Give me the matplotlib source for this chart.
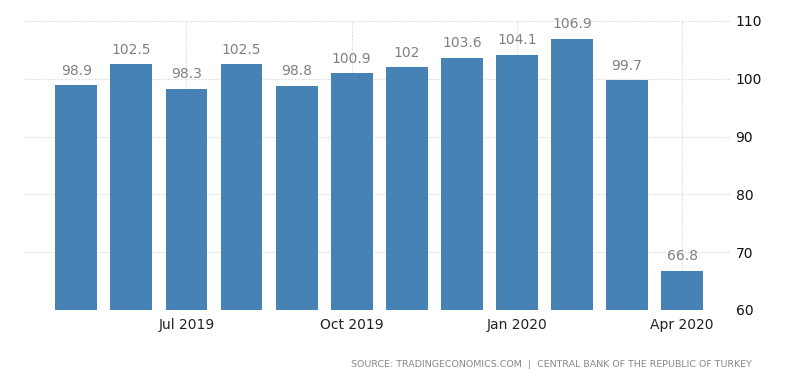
import matplotlib.pyplot as plt

months = ['May 2019', 'Jun 2019', 'Jul 2019', 'Aug 2019', 'Sep 2019', 'Oct 2019',
          'Nov 2019', 'Dec 2019', 'Jan 2020', 'Feb 2020', 'Mar 2020', 'Apr 2020']
values = [98.9, 102.5, 98.3, 102.5, 98.8, 100.9, 102, 103.6, 104.1, 106.9, 99.7, 66.8]
value_labels = ['98.9', '102.5', '98.3', '102.5', '98.8', '100.9', '102', '103.6',
                '104.1', '106.9', '99.7', '66.8']
tick_months = ['Jul 2019', 'Oct 2019', 'Jan 2020', 'Apr 2020']
y_ticks = [60, 70, 80, 90, 100, 110]

fig = plt.figure(figsize=(8, 3.73), dpi=100)
ax = fig.add_axes([0.03, 0.169, 0.8825, 0.775])

x = list(range(len(months)))
ax.bar(x, values, width=0.76, color='#4682b4', zorder=2)

for xi, v, lab in zip(x, values, value_labels):
    ax.text(xi, v + 1.3, lab, ha='center', va='bottom', fontsize=10, color='#808080')

ax.set_ylim(60, 110)
ax.set_xlim(-0.95, 11.87)
ax.set_yticks(y_ticks)
ax.yaxis.tick_right()
ax.tick_params(axis='y', length=0, pad=4, labelsize=10, labelcolor='#111111')

tick_pos = [months.index(m) for m in tick_months]
ax.set_xticks(tick_pos)
ax.set_xticklabels(tick_months)
ax.tick_params(axis='x', length=0, pad=6, labelsize=10, labelcolor='#222222')

ax.grid(True, color='#e2e2e2', linestyle=(0, (2, 1)), linewidth=0.8, zorder=0)
for s in ax.spines.values():
    s.set_visible(False)

fig.text(0.94, 0.022, 'SOURCE: TRADINGECONOMICS.COM  |  CENTRAL BANK OF THE REPUBLIC OF TURKEY',
         ha='right', va='center', fontsize=6.8, color='#888888')

fig.savefig('out.png', dpi=100)
